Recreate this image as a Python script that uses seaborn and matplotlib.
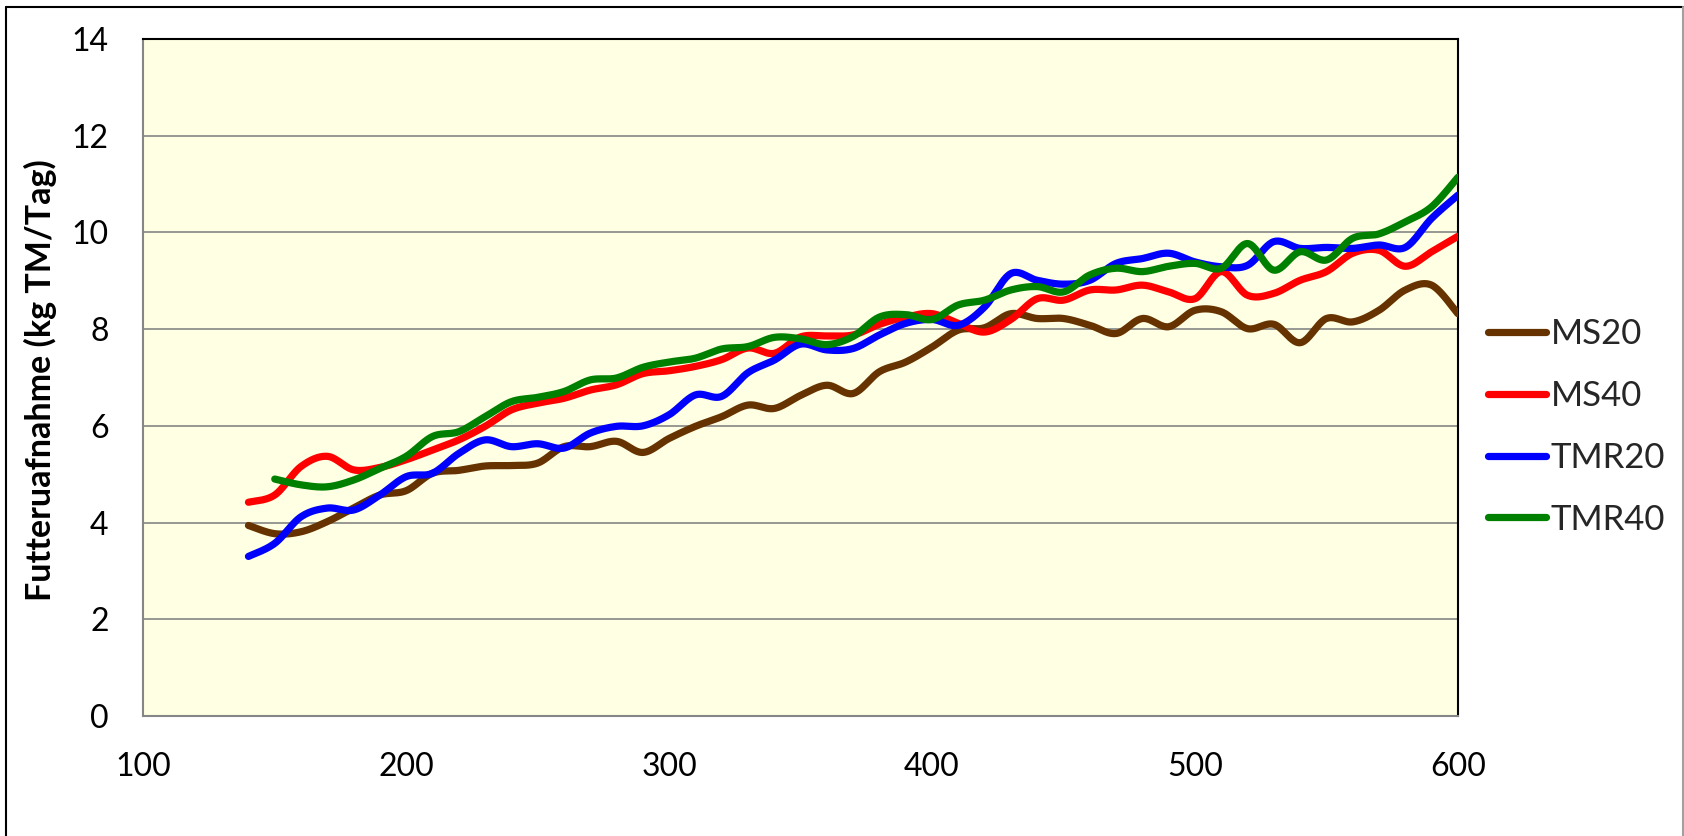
import numpy as np
import pandas as pd
import matplotlib
matplotlib.use("Agg")
import matplotlib.pyplot as plt
from matplotlib.lines import Line2D
import seaborn as sns

# ---------------- data ----------------
x_vals = [140, 150, 160, 170, 180, 190, 200, 210, 220, 230, 240, 250, 260, 270,
          280, 290, 300, 310, 320, 330, 340, 350, 360, 370, 380, 390, 400, 410,
          420, 430, 440, 450, 460, 470, 480, 490, 500, 510, 520, 530, 540, 550,
          560, 570, 580, 590, 600]
ms20 = [3.94, 3.77, 3.81, 4.02, 4.30, 4.57, 4.66, 5.02, 5.08, 5.17, 5.18, 5.23,
        5.57, 5.57, 5.68, 5.45, 5.74, 5.99, 6.19, 6.43, 6.36, 6.63, 6.84, 6.67,
        7.12, 7.32, 7.63, 7.98, 8.03, 8.32, 8.22, 8.22, 8.08, 7.91, 8.22, 8.05,
        8.39, 8.36, 8.01, 8.10, 7.72, 8.22, 8.15, 8.39, 8.81, 8.91, 8.32]
ms40 = [4.42, 4.57, 5.16, 5.37, 5.09, 5.14, 5.30, 5.50, 5.71, 5.99, 6.33, 6.47,
        6.57, 6.74, 6.85, 7.08, 7.14, 7.23, 7.37, 7.61, 7.50, 7.84, 7.86, 7.88,
        8.10, 8.25, 8.32, 8.12, 7.94, 8.20, 8.63, 8.60, 8.81, 8.81, 8.91, 8.77,
        8.63, 9.19, 8.70, 8.74, 9.01, 9.19, 9.57, 9.63, 9.30, 9.60, 9.92]
tmr20 = [3.30, 3.57, 4.12, 4.30, 4.26, 4.57, 4.95, 5.02, 5.43, 5.71, 5.57, 5.63,
         5.54, 5.85, 5.99, 6.00, 6.23, 6.64, 6.61, 7.10, 7.36, 7.69, 7.57, 7.60,
         7.88, 8.12, 8.20, 8.08, 8.46, 9.15, 9.01, 8.93, 9.01, 9.36, 9.46, 9.57,
         9.39, 9.29, 9.32, 9.81, 9.67, 9.69, 9.67, 9.74, 9.69, 10.29, 10.77]
tmr40 = [None, 4.90, 4.78, 4.74, 4.88, 5.12, 5.37, 5.78, 5.88, 6.19, 6.50, 6.59,
         6.71, 6.95, 6.99, 7.21, 7.32, 7.40, 7.59, 7.64, 7.83, 7.80, 7.68, 7.85,
         8.25, 8.30, 8.20, 8.50, 8.60, 8.81, 8.88, 8.77, 9.12, 9.26, 9.19, 9.30,
         9.36, 9.26, 9.77, 9.22, 9.60, 9.43, 9.88, 9.97, 10.22, 10.53, 11.14]

series_names = ["MS20", "MS40", "TMR20", "TMR40"]
series_vals = [ms20, ms40, tmr20, tmr40]
colors = ["#663300", "#FF0000", "#0000FF", "#008000"]
x_ticks = [100, 200, 300, 400, 500, 600]
y_ticks = [0, 2, 4, 6, 8, 10, 12, 14]
y_label = "Futteruafnahme (kg TM/Tag)"


# ---------- Excel-style smoothed line rendering (Bezier through the points) ----------
def smooth_curve(xs, ys, n=24):
    xs = np.asarray(xs, float)
    ys = np.asarray(ys, float)
    P = np.column_stack([xs, ys])
    out = []
    m = len(P)
    for i in range(m - 1):
        p0 = P[i - 1] if i > 0 else P[i]
        p1 = P[i]
        p2 = P[i + 1]
        p3 = P[i + 2] if i + 2 < m else P[i + 1]
        c1 = p1 + (p2 - p0) / 6.0
        c2 = p2 - (p3 - p1) / 6.0
        t = np.linspace(0, 1, n, endpoint=(i == m - 2))[:, None]
        b = ((1 - t) ** 3) * p1 + 3 * ((1 - t) ** 2) * t * c1 + 3 * (1 - t) * t ** 2 * c2 + t ** 3 * p2
        out.append(b)
    out = np.vstack(out)
    return out[:, 0], out[:, 1]


frames = []
for name, vals in zip(series_names, series_vals):
    pts = [(x, v) for x, v in zip(x_vals, vals) if v is not None]
    sx, sy = smooth_curve([p[0] for p in pts], [p[1] for p in pts])
    frames.append(pd.DataFrame({"x": sx, "y": sy, "Serie": name}))
df = pd.concat(frames, ignore_index=True)

# ---------------- figure ----------------
sns.set_theme(style="white")
plt.rcParams["font.family"] = ["Lato", "DejaVu Sans"]

fig = plt.figure(figsize=(16.84, 8.36), dpi=100)
fig.patch.set_facecolor("white")
L, R, T, B = 143.3, 1457.9, 39.0, 716.0
W, H = 1684, 836
ax = fig.add_axes([L / W, 1 - B / H, (R - L) / W, (B - T) / H])
ax.set_facecolor("#FFFFE3")

sns.lineplot(data=df, x="x", y="y", hue="Serie", hue_order=series_names,
             palette=colors, sort=False, estimator=None, units="Serie",
             linewidth=5.2, ax=ax, legend=True, zorder=3)
for ln in ax.get_lines():
    ln.set_solid_capstyle("round")
    ln.set_solid_joinstyle("round")

ax.set_xlim(100, 600)
ax.set_ylim(0, 14)
ax.set_xticks(x_ticks)
ax.set_yticks(y_ticks)
ax.set_xticklabels([str(v) for v in x_ticks])
ax.set_yticklabels([str(v) for v in y_ticks])
ax.tick_params(axis="both", which="major", direction="out", length=8, width=1.2,
               color="#868686", labelsize=23, labelcolor="black")
ax.tick_params(axis="y", pad=17)
ax.tick_params(axis="x", pad=18)
ax.grid(axis="y", color="#868686", linewidth=1.2, zorder=1)
ax.grid(axis="x", visible=False)
ax.set_axisbelow(True)

for side in ["left", "bottom"]:
    ax.spines[side].set_color("#868686")
    ax.spines[side].set_linewidth(1.5)
for side in ["top", "right"]:
    ax.spines[side].set_color("black")
    ax.spines[side].set_linewidth(1.5)

ax.set_xlabel("")
ax.set_ylabel(y_label, fontsize=24.5, fontweight="bold", color="black")
ax.yaxis.set_label_coords(-0.066, 0.4956)

sns.move_legend(ax, loc="upper left", bbox_to_anchor=(1488 / W, 1 - 318 / H),
                bbox_transform=fig.transFigure, frameon=False, title=None,
                fontsize=25, handlelength=1.68, handletextpad=0.12,
                labelspacing=0.86, borderpad=0, borderaxespad=0)
leg = ax.get_legend()
for h in leg.legend_handles:
    h.set_linewidth(5.2)
    h.set_solid_capstyle("round")

# outer chart border
fig.add_artist(Line2D([6 / W, 6 / W], [0, 1 - 7 / H], transform=fig.transFigure, color="black", lw=1.5))
fig.add_artist(Line2D([6 / W, 1683 / W], [1 - 7 / H, 1 - 7 / H], transform=fig.transFigure, color="black", lw=1.5))
fig.add_artist(Line2D([1683 / W, 1683 / W], [0, 1 - 7 / H], transform=fig.transFigure, color="#A0A0A0", lw=1.5))

fig.savefig("out.png", dpi=100, facecolor="white")
